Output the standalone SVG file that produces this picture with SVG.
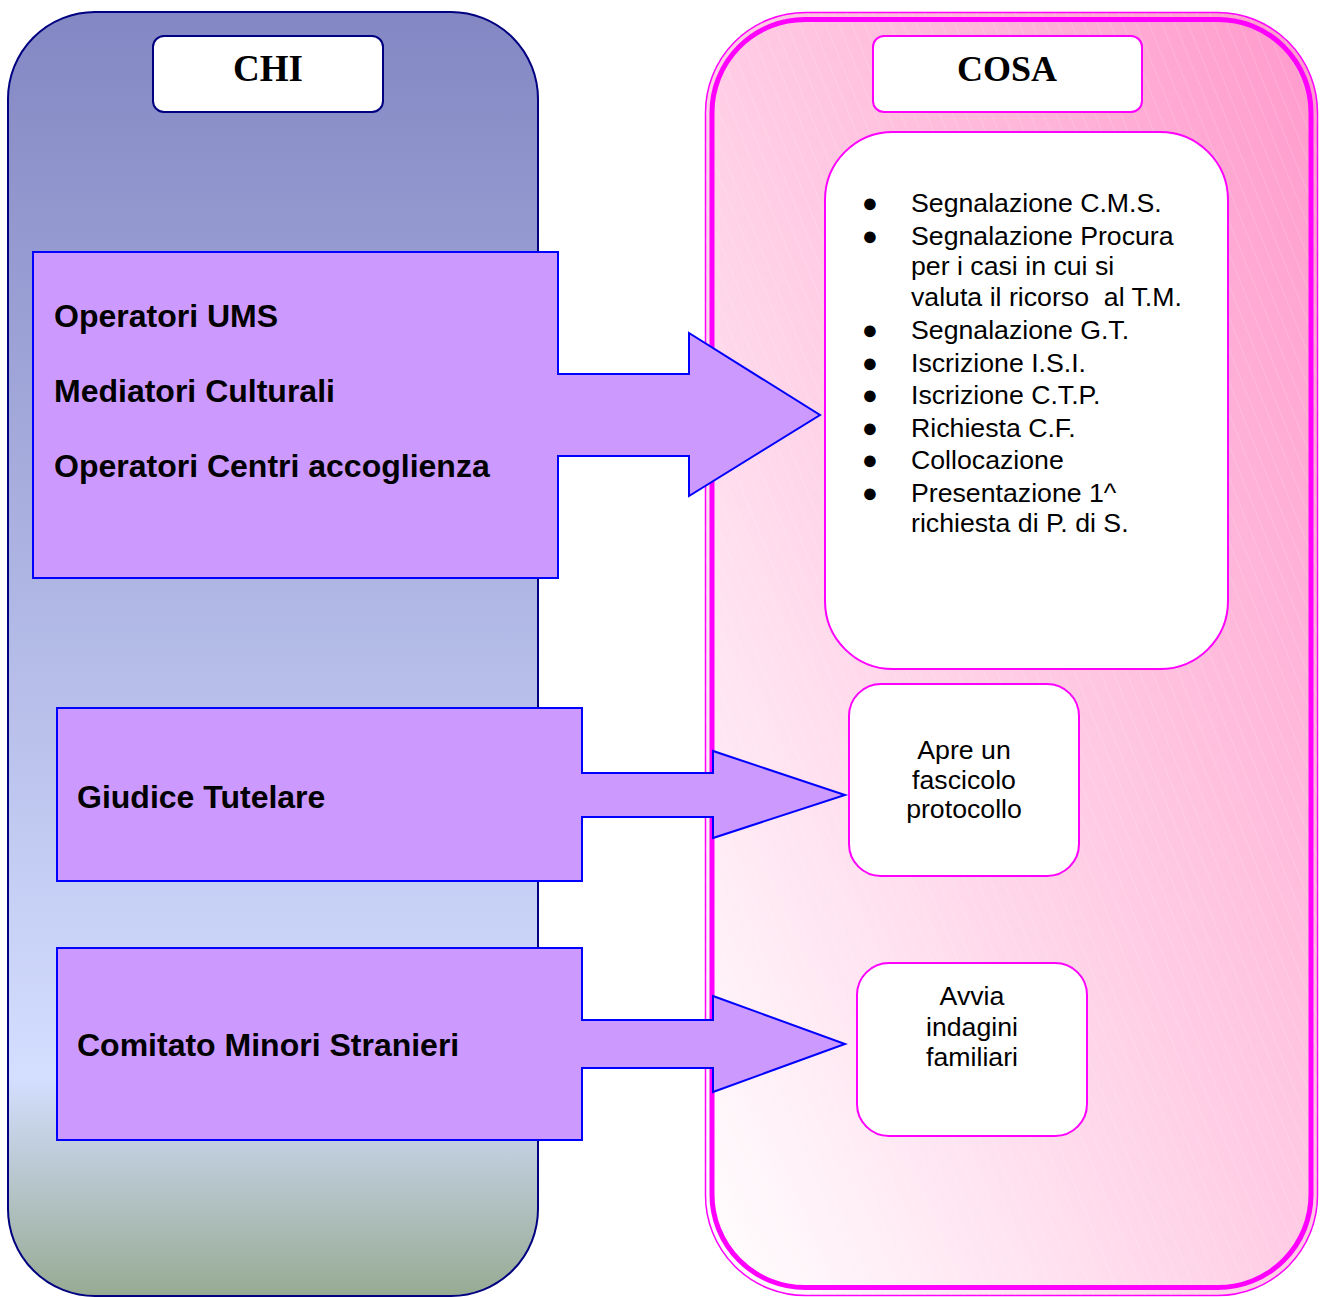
<svg xmlns="http://www.w3.org/2000/svg" width="1330" height="1297" viewBox="0 0 1330 1297">
<defs>
  <linearGradient id="gChi" x1="0" y1="0" x2="0" y2="1">
    <stop offset="0" stop-color="#8387C3"/>
    <stop offset="0.83" stop-color="#D4DEFF"/>
    <stop offset="1" stop-color="#97AB93"/>
  </linearGradient>
  <linearGradient id="gCosa" x1="0" y1="1" x2="1" y2="0">
    <stop offset="0" stop-color="#FFFFFF"/>
    <stop offset="0.5" stop-color="#FFCCE4"/>
    <stop offset="1" stop-color="#FF99CC"/>
  </linearGradient>
  <pattern id="hatch" patternUnits="userSpaceOnUse" width="12" height="12" patternTransform="rotate(-22)">
    <line x1="0" y1="0" x2="0" y2="12" stroke="#FFFFFF" stroke-width="1" stroke-opacity="0.3"/>
  </pattern>
  <style>
    .hdr{fill:#FFFFFF;stroke-width:2}
    .hdrtxt{font-family:"Liberation Serif","Times New Roman",serif;font-weight:bold;fill:#000000;text-anchor:middle}
    .callout{fill:#CC99FF;stroke:#0000FF;stroke-width:2;stroke-linejoin:miter}
    .who{font-family:"Liberation Sans",Arial,sans-serif;font-weight:bold;font-size:32px;fill:#000000}
    .box{fill:#FFFFFF;stroke:#FF00FF;stroke-width:2}
    .what{font-family:"Liberation Sans",Arial,sans-serif;font-size:26.7px;fill:#000000}
    .blt{font-family:"Liberation Sans",Arial,sans-serif;font-size:27px;fill:#000000}
    .mid{text-anchor:middle}
  </style>
</defs>

<g id="panel-chi">
  <rect x="8" y="12" width="530" height="1284" rx="87" ry="87" fill="url(#gChi)" stroke="#000080" stroke-width="2"/>
</g>

<g id="panel-cosa">
  <rect x="705.5" y="12.5" width="612" height="1283" rx="100" ry="100" fill="url(#gCosa)" stroke="#FF00FF" stroke-width="1.5"/>
  <rect x="705.5" y="12.5" width="612" height="1283" rx="100" ry="100" fill="url(#hatch)" stroke="none"/>
  <rect x="712" y="19.5" width="599" height="1268" rx="93" ry="93" fill="none" stroke="#FF00FF" stroke-width="5"/>
</g>

<g id="header-chi">
  <rect class="hdr" x="153" y="36" width="230" height="76" rx="11" ry="11" stroke="#000080"/>
  <text class="hdrtxt" x="268" y="81" font-size="37">CHI</text>
</g>

<g id="header-cosa">
  <rect class="hdr" x="873" y="36" width="269" height="76" rx="11" ry="11" stroke="#FF00FF"/>
  <text class="hdrtxt" x="1007" y="81" font-size="36">COSA</text>
</g>

<g id="node-operatori">
  <path class="callout" d="M33,252 H558 V374 H689 V333 L820,415 L689,496 V456 H558 V578 H33 Z"/>
  <text class="who" x="54" y="327">Operatori UMS</text>
  <text class="who" x="54" y="402">Mediatori Culturali</text>
  <text class="who" x="54" y="477">Operatori Centri accoglienza</text>
</g>

<g id="node-giudice">
  <path class="callout" d="M57,708 H582 V773 H713 V751 L845,795 L713,838 V817 H582 V881 H57 Z"/>
  <text class="who" x="77" y="808">Giudice Tutelare</text>
</g>

<g id="node-comitato">
  <path class="callout" d="M57,948 H582 V1020 H713 V996 L845,1044 L713,1092 V1068 H582 V1140 H57 Z"/>
  <text class="who" x="77" y="1056">Comitato Minori Stranieri</text>
</g>

<g id="node-attivita">
  <rect class="box" x="825" y="132" width="403" height="537" rx="68" ry="68"/>
  <g class="blt" text-anchor="middle">
    <text x="870" y="212">●</text>
    <text x="870" y="245">●</text>
    <text x="870" y="339">●</text>
    <text x="870" y="372">●</text>
    <text x="870" y="404">●</text>
    <text x="870" y="437">●</text>
    <text x="870" y="469">●</text>
    <text x="870" y="502">●</text>
  </g>
  <g class="what">
    <text x="911" y="212">Segnalazione C.M.S.</text>
    <text x="911" y="245">Segnalazione Procura</text>
    <text x="911" y="275">per i casi in cui si</text>
    <text x="911" y="306" style="white-space:pre">valuta il ricorso  al T.M.</text>
    <text x="911" y="339">Segnalazione G.T.</text>
    <text x="911" y="372">Iscrizione I.S.I.</text>
    <text x="911" y="404">Iscrizione C.T.P.</text>
    <text x="911" y="437">Richiesta C.F.</text>
    <text x="911" y="469">Collocazione</text>
    <text x="911" y="502">Presentazione 1^</text>
    <text x="911" y="532">richiesta di P. di S.</text>
  </g>
</g>

<g id="node-fascicolo">
  <rect class="box" x="849" y="684" width="230" height="192" rx="32" ry="32"/>
  <text class="what mid" x="964" y="759">Apre un</text>
  <text class="what mid" x="964" y="789">fascicolo</text>
  <text class="what mid" x="964" y="818">protocollo</text>
</g>

<g id="node-indagini">
  <rect class="box" x="857" y="963" width="230" height="173" rx="32" ry="32"/>
  <text class="what mid" x="972" y="1005">Avvia</text>
  <text class="what mid" x="972" y="1036">indagini</text>
  <text class="what mid" x="972" y="1066">familiari</text>
</g>

<g id="connectors"></g>
</svg>
